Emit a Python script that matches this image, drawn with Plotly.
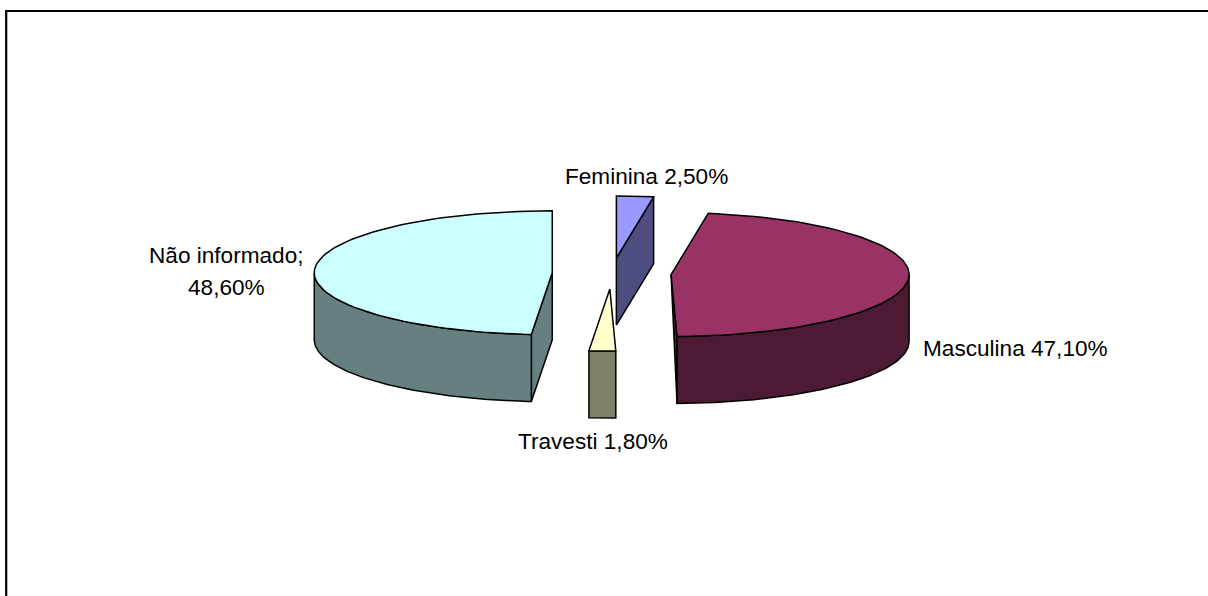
import numpy as np
import plotly.graph_objects as go

# Data (clockwise from 12 o'clock)
categories = ["Feminina", "Masculina", "Travesti", "Não informado"]
values = [2.5, 47.1, 1.8, 48.6]
top_colors = ["#9999FF", "#993366", "#FFFFCC", "#CCFFFF"]
side_colors = ["#4D4D80", "#4D1A33", "#808066", "#668080"]

# Projection of the 3D exploded pie, in page pixels
W, H = 1208, 596
CX, CY, RX, RY, DEPTH, EXPLODE = 611.7, 273.5, 238, 62, 67, 0.25
EDGE = dict(color="#000000", width=1.5)


def to_rad(deg):
    return np.deg2rad(deg)


def rim(cx, cy, a0, a1, n=90):
    t = to_rad(np.linspace(a0, a1, n))
    return cx + RX * np.sin(t), cy - RY * np.cos(t)


def poly(fig, xs, ys, color):
    fig.add_trace(go.Scatter(
        x=list(xs) + [xs[0]], y=list(ys) + [ys[0]], mode="lines", fill="toself",
        fillcolor=color, line=EDGE, hoverinfo="skip", showlegend=False))


fig = go.Figure()
bounds = np.concatenate([[0], np.cumsum(values) / np.sum(values) * 360])

for i in range(len(values)):
    a0, a1 = bounds[i], bounds[i + 1]
    mid = to_rad((a0 + a1) / 2)
    cx = CX + EXPLODE * RX * np.sin(mid)
    cy = CY - EXPLODE * RY * np.cos(mid)
    rx, ry = rim(cx, cy, a0, a1)

    # radial faces that look toward the viewer
    for ang, visible in ((a0, 180 < a0 < 360), (a1, 0 < a1 < 180)):
        if visible:
            ex = cx + RX * np.sin(to_rad(ang))
            ey = cy - RY * np.cos(to_rad(ang))
            if abs(ang - 180) < 3:  # nearly edge-on face collapses to a sliver
                poly(fig, [cx, ex, ex], [cy, ey, ey + DEPTH], side_colors[i])
            else:
                poly(fig, [cx, ex, ex, cx], [cy, ey, ey + DEPTH, cy + DEPTH], side_colors[i])

    # outer wall on the front half of the rim
    f0, f1 = max(a0, 90), min(a1, 270)
    if f1 > f0:
        wx, wy = rim(cx, cy, f0, f1)
        poly(fig, np.r_[wx, wx[::-1]], np.r_[wy, wy[::-1] + DEPTH], side_colors[i])

    # top surface
    poly(fig, np.r_[cx, rx], np.r_[cy, ry], top_colors[i])


def pct(v):
    return f"{v:.2f}".replace(".", ",") + "%"


FONT = dict(family="Liberation Sans, Arial, sans-serif", size=22.6, color="#000000")
notes = [
    (f"{categories[0]} {pct(values[0])}", 646, 176, "center"),
    (f"{categories[1]} {pct(values[1])}", 923, 348, "left"),
    (f"{categories[2]} {pct(values[2])}", 593, 441, "center"),
    (f"{categories[3]};", 226, 255, "center"),
    (pct(values[3]), 226, 287, "center"),
]
for text, x, y, anchor in notes:
    fig.add_annotation(x=x, y=y, xref="x", yref="y", text=text, showarrow=False,
                       xanchor=anchor, yanchor="middle", font=FONT, borderpad=0, borderwidth=0)

frame = dict(type="line", xref="x", yref="y", line=dict(color="#000000", width=2.2))
fig.add_shape(x0=5, x1=W, y0=11, y1=11, **frame)
fig.add_shape(x0=6.2, x1=6.2, y0=10, y1=H, **frame)

fig.update_layout(
    width=W, height=H, margin=dict(l=0, r=0, t=0, b=0),
    paper_bgcolor="#FFFFFF", plot_bgcolor="#FFFFFF", showlegend=False,
    xaxis=dict(range=[0, W], visible=False, fixedrange=True),
    yaxis=dict(range=[H, 0], visible=False, fixedrange=True),
)
fig.write_html("out.html", config=dict(displayModeBar=False),
               post_script="document.body.style.margin='0';document.body.style.overflow='hidden';")
